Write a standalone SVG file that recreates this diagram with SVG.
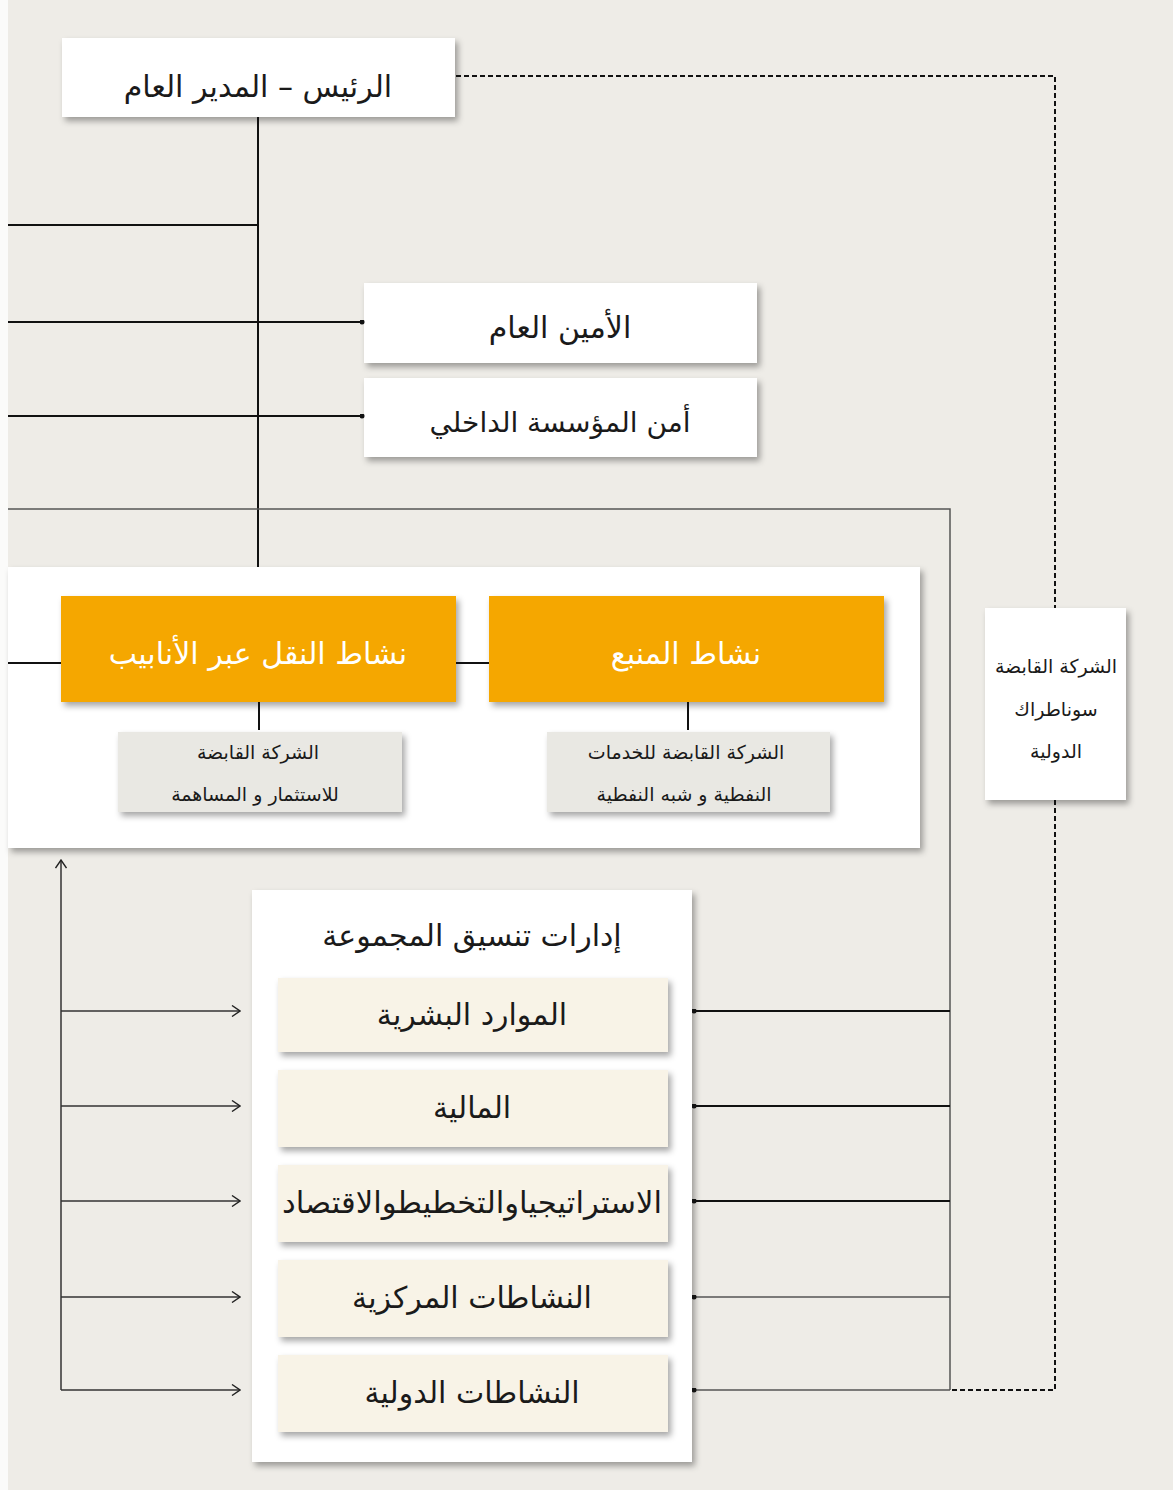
<svg xmlns="http://www.w3.org/2000/svg" width="1173" height="1490" viewBox="0 0 1173 1490">
<defs>
<filter id="sh" x="-10%" y="-10%" width="125%" height="130%">
<feDropShadow dx="3" dy="4" stdDeviation="3" flood-color="#000" flood-opacity="0.35"/>
</filter>
<marker id="arr" viewBox="0 0 10 12" refX="9" refY="6" markerWidth="10" markerHeight="12" markerUnits="userSpaceOnUse" orient="auto">
<path d="M1,0.5 L9,6 L1,11.5" fill="none" stroke="#222" stroke-width="1.4"/>
</marker>
<marker id="dot" viewBox="0 0 6 6" refX="3" refY="3" markerWidth="5" markerHeight="5" markerUnits="userSpaceOnUse">
<circle cx="3" cy="3" r="3" fill="#111"/>
</marker>
</defs>
<style>
text{font-family:"DejaVu Sans","Liberation Sans",sans-serif;text-anchor:middle;direction:rtl;fill:#1a1a1a}
.box{fill:#ffffff;filter:url(#sh)}
.org{fill:#f5a700;filter:url(#sh)}
.gry{fill:#e9e8e3;filter:url(#sh)}
.crm{fill:#f8f3e7;filter:url(#sh)}
.ln{stroke:#111;stroke-width:2;fill:none}
.lg{stroke:#555;stroke-width:1.5;fill:none}
.la{stroke:#333;stroke-width:1.5;fill:none}
.ds{stroke:#111;stroke-width:2;fill:none;stroke-dasharray:5 3}
.t30{font-size:30px}
.t28{font-size:28px}
.t20{font-size:19px}
.wt{fill:#ffffff}
</style>
<rect x="0" y="0" width="1173" height="1490" fill="#eeece7"/>
<rect x="0" y="0" width="8" height="1490" fill="#fbfbfa"/>

<g id="president">
<rect class="box" x="62" y="38" width="393" height="79"/>
<text class="t30" x="258" y="97">الرئيس – المدير العام</text>
</g>

<g id="secretary">
<rect class="box" x="364" y="283" width="393" height="80"/>
<text class="t30" x="560" y="338">الأمين العام</text>
</g>

<g id="security">
<rect class="box" x="364" y="378" width="393" height="79"/>
<text class="t28" x="560" y="432">أمن المؤسسة الداخلي</text>
</g>

<g id="activities-panel">
<rect class="box" x="8" y="567" width="912" height="281"/>
</g>

<g id="pipeline">
<rect class="org" x="61" y="596" width="395" height="106"/>
<text class="t30 wt" x="258" y="664">نشاط النقل عبر الأنابيب</text>
</g>

<g id="upstream">
<rect class="org" x="489" y="596" width="395" height="106"/>
<text class="t30 wt" x="686" y="664">نشاط المنبع</text>
</g>

<g id="holding-invest">
<rect class="gry" x="118" y="732" width="284" height="80"/>
<text class="t20" x="258" y="759">الشركة القابضة</text>
<text class="t20" x="255" y="801">للاستثمار و المساهمة</text>
</g>

<g id="holding-services">
<rect class="gry" x="547" y="732" width="283" height="80"/>
<text class="t20" x="686" y="759">الشركة القابضة للخدمات</text>
<text class="t20" x="684" y="801">النفطية و شبه النفطية</text>
</g>

<g id="sonatrach-intl">
<rect class="box" x="985" y="608" width="141" height="192"/>
<text class="t20" x="1056" y="673">الشركة القابضة</text>
<text class="t20" x="1056" y="716">سوناطراك</text>
<text class="t20" x="1056" y="758">الدولية</text>
</g>

<g id="group-coordination">
<rect class="box" x="252" y="890" width="440" height="572"/>
<text class="t30" x="472" y="946">إدارات تنسيق المجموعة</text>
</g>

<g id="hr">
<rect class="crm" x="278" y="978" width="390" height="74"/>
<text class="t30" x="472" y="1025">الموارد البشرية</text>
</g>

<g id="finance">
<rect class="crm" x="278" y="1070" width="390" height="77"/>
<text class="t30" x="472" y="1118">المالية</text>
</g>

<g id="strategy">
<rect class="crm" x="278" y="1165" width="390" height="77"/>
<text class="t30" x="472" y="1213" textLength="380" lengthAdjust="spacingAndGlyphs">الاستراتيجياوالتخطيطوالاقتصاد</text>
</g>

<g id="central">
<rect class="crm" x="278" y="1260" width="390" height="77"/>
<text class="t30" x="472" y="1308">النشاطات المركزية</text>
</g>

<g id="international">
<rect class="crm" x="278" y="1355" width="390" height="77"/>
<text class="t30" x="472" y="1403">النشاطات الدولية</text>
</g>

<g id="connectors">
<path class="ds" d="M456,76 H1055 V608"/>
<path class="ds" d="M1055,800 V1390 H950"/>
<path class="ln" d="M258,117 V567"/>
<path class="ln" d="M8,225 H258"/>
<path class="ln" d="M8,322 H362" marker-end="url(#dot)"/>
<path class="ln" d="M8,416 H362" marker-end="url(#dot)"/>
<path class="lg" d="M8,509 H950 V1390"/>
<path class="ln" d="M8,663 H61"/>
<path class="ln" d="M456,663 H489"/>
<path class="ln" d="M259,702 V730"/>
<path class="ln" d="M688,702 V730"/>
<path class="la" d="M61,1390 V860" marker-end="url(#arr)"/>
<path class="la" d="M61,1011 H240" marker-end="url(#arr)"/>
<path class="la" d="M61,1106 H240" marker-end="url(#arr)"/>
<path class="la" d="M61,1201 H240" marker-end="url(#arr)"/>
<path class="la" d="M61,1297 H240" marker-end="url(#arr)"/>
<path class="la" d="M61,1390 H240" marker-end="url(#arr)"/>
<path class="ln" stroke-width="2.5" d="M950,1011 H694" marker-end="url(#dot)"/>
<path class="ln" stroke-width="2.5" d="M950,1106 H694" marker-end="url(#dot)"/>
<path class="ln" stroke-width="2.5" d="M950,1201 H694" marker-end="url(#dot)"/>
<path class="lg" d="M950,1297 H694" marker-end="url(#dot)"/>
<path class="lg" d="M950,1390 H694" marker-end="url(#dot)"/>
</g>
</svg>
